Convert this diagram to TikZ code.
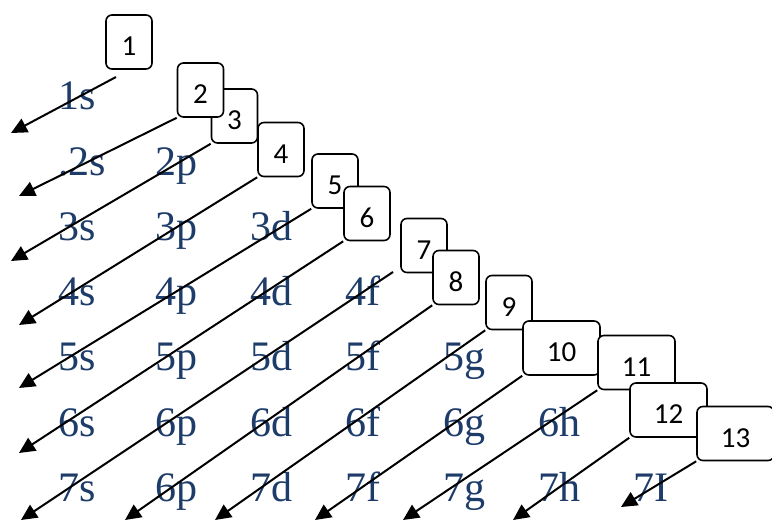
\documentclass[tikz,border=0pt]{standalone}
\usepackage{fontspec}
\setmainfont{Liberation Serif}
\newfontfamily\boxfont{Carlito}
\usetikzlibrary{arrows.meta}
\definecolor{orbblue}{RGB}{30,60,105}
\pgfdeclarelayer{front}
\pgfsetlayers{main,front}

\begin{document}
\begin{tikzpicture}[
  x=1pt, y=-1pt,
  orb/.style={anchor=base west, inner sep=0pt, text=orbblue, font=\fontsize{42}{42}\selectfont},
  num/.style={draw, line width=1.6pt, rounded corners=6pt, fill=white, minimum width=46pt, minimum height=54pt,
    inner sep=0pt, text height=28pt, text depth=0pt, font=\boxfont\fontsize{29}{29}\selectfont},
  wide/.style={num, minimum width=77pt},
  arrow/.style={-{Triangle[length=16pt,width=15pt]}, line width=2pt}
]
\useasboundingbox (0,0) rectangle (772,521);

% orbital labels, one row per shell
\node[orb] (r1c1) at (58,110) {1s};
\node[orb] (r2c1) at (58,176) {.2s};
\node[orb] (r2c2) at (155,176) {2p};
\node[orb] (r3c1) at (58,241) {3s};
\node[orb] (r3c2) at (155,241) {3p};
\node[orb] (r3c3) at (250,241) {3d};
\node[orb] (r4c1) at (58,306) {4s};
\node[orb] (r4c2) at (155,306) {4p};
\node[orb] (r4c3) at (250,306) {4d};
\node[orb] (r4c4) at (345,306) {4f};
\node[orb] (r5c1) at (58,371) {5s};
\node[orb] (r5c2) at (155,371) {5p};
\node[orb] (r5c3) at (250,371) {5d};
\node[orb] (r5c4) at (345,371) {5f};
\node[orb] (r5c5) at (443,371) {5g};
\node[orb] (r6c1) at (58,437) {6s};
\node[orb] (r6c2) at (155,437) {6p};
\node[orb] (r6c3) at (250,437) {6d};
\node[orb] (r6c4) at (345,437) {6f};
\node[orb] (r6c5) at (443,437) {6g};
\node[orb] (r6c6) at (538,437) {6h};
\node[orb] (r7c1) at (58,502) {7s};
\node[orb] (r7c2) at (155,502) {6p};
\node[orb] (r7c3) at (250,502) {7d};
\node[orb] (r7c4) at (345,502) {7f};
\node[orb] (r7c5) at (443,502) {7g};
\node[orb] (r7c6) at (538,502) {7h};
\node[orb] (r7c7) at (633,502) {7I};

% numbered boxes, kept above the arrows
\begin{pgfonlayer}{front}
\node[num] (b1) at (129,42) {1};
\node[num] (b3) at (234.5,116) {3};
\node[num] (b2) at (200.5,90) {2};
\node[num] (b4) at (281,149.5) {4};
\node[num] (b5) at (335,181) {5};
\node[num] (b6) at (367,213.5) {6};
\node[num] (b7) at (424,245.5) {7};
\node[num] (b8) at (456,277.5) {8};
\node[num] (b9) at (509,302.5) {9};
\node[wide] (b10) at (561.5,348) {10};
\node[wide] (b11) at (636.5,362.5) {11};
\node[wide] (b12) at (668.5,410) {12};
\node[wide] (b13) at (735.5,433.5) {13};
\end{pgfonlayer}

% free ends of the arrows
\coordinate (s1) at (116,77);
\coordinate (s7) at (393,272);
\coordinate (t1) at (11,133);
\coordinate (t2) at (19,196);
\coordinate (t3) at (11,261);
\coordinate (t4) at (19,325);
\coordinate (t5) at (19,388);
\coordinate (t6) at (19,453);
\coordinate (t7) at (21,520);
\coordinate (t8) at (125,520);
\coordinate (t9) at (215,520);
\coordinate (t10) at (315,520);
\coordinate (t11) at (403,520);
\coordinate (t12) at (513,520);
\coordinate (t13) at (621,507);

% diagonal filling order
\draw[arrow] (s1) -- (t1);
\draw[arrow] (b2.south west) -- (t2);
\draw[arrow] (b3.south west) -- (t3);
\draw[arrow] (b4.south west) -- (t4);
\draw[arrow] (b5.south west) -- (t5);
\draw[arrow] (b6.south west) -- (t6);
\draw[arrow] (s7) -- (t7);
\draw[arrow] (b8.south west) -- (t8);
\draw[arrow] (b9.south west) -- (t9);
\draw[arrow] (b10.south west) -- (t10);
\draw[arrow] (b11.south west) -- (t11);
\draw[arrow] (b12.south west) -- (t12);
\draw[arrow] (b13.south west) -- (t13);

\end{tikzpicture}
\end{document}
